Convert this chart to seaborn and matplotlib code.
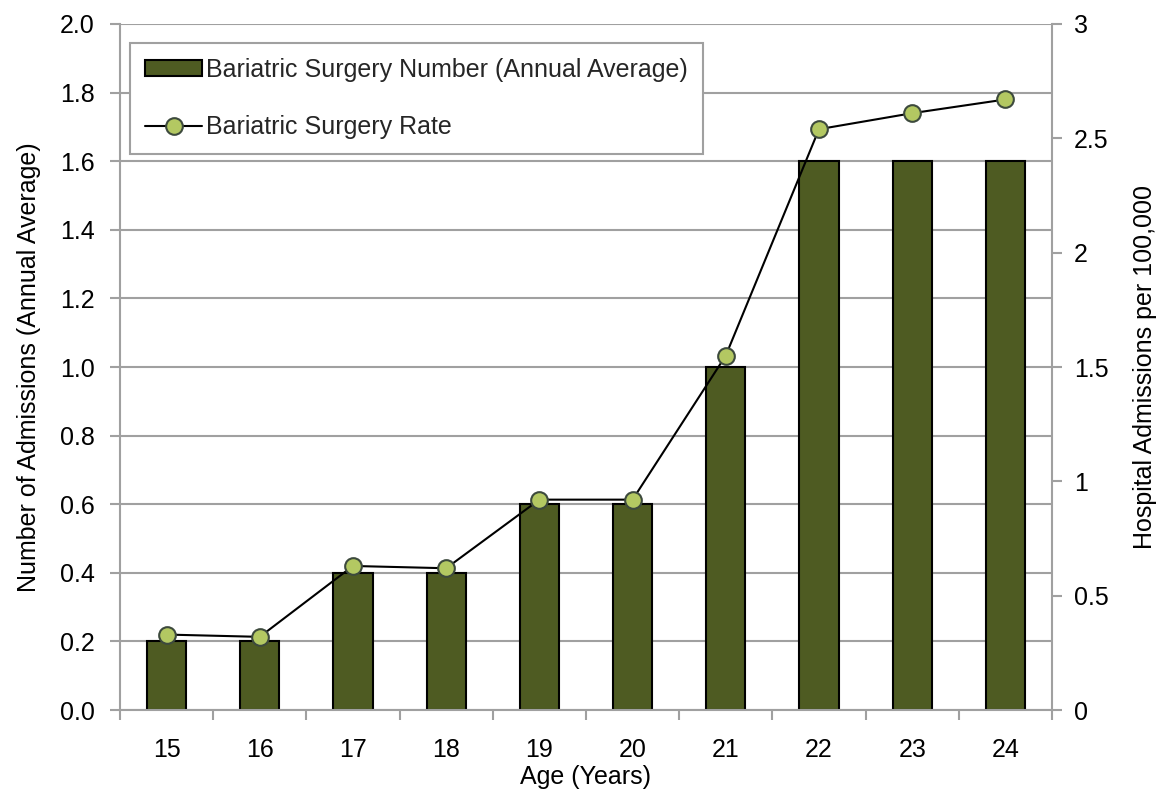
import matplotlib
matplotlib.use("Agg")
import matplotlib.pyplot as plt
import matplotlib.ticker as mticker
from matplotlib.patches import Patch
from matplotlib.lines import Line2D
import numpy as np
import pandas as pd
import seaborn as sns

ages = ["15", "16", "17", "18", "19", "20", "21", "22", "23", "24"]
surgery_number = [0.2, 0.2, 0.4, 0.4, 0.6, 0.6, 1.0, 1.6, 1.6, 1.6]
surgery_rate = [0.33, 0.32, 0.63, 0.62, 0.92, 0.92, 1.55, 2.54, 2.61, 2.67]

bar_label = "Bariatric Surgery Number (Annual Average)"
line_label = "Bariatric Surgery Rate"

sns.set_theme(style="white")
plt.rcParams["font.family"] = ["Liberation Sans", "DejaVu Sans"]

df = pd.DataFrame({"age": ages, "number": surgery_number, "rate": surgery_rate})

BAR_COLOR = "#4e5b22"
MARKER_FACE = "#b3c862"
MARKER_EDGE = "#3d4a3d"
GRID_GRAY = "#a0a0a0"
FS = 18

fig = plt.figure(figsize=(11.6, 7.92), dpi=100)
ax = fig.add_axes([0.1034, 0.1035, 0.8035, 0.8662])

sns.barplot(data=df, x="age", y="number", order=ages, color=BAR_COLOR,
            saturation=1, width=0.42, edgecolor="black", linewidth=1.5, ax=ax)
ax.set_xlim(-0.5, len(ages) - 0.5)
ax.set_ylim(0, 2.0)
ax.yaxis.set_major_locator(mticker.MultipleLocator(0.2))
ax.yaxis.set_major_formatter(mticker.FormatStrFormatter("%.1f"))
ax.grid(axis="y", color=GRID_GRAY, linewidth=1.5)
ax.set_axisbelow(True)

# category labels at centres, tick marks at category boundaries
ax.set_xticks(np.arange(len(ages) + 1) - 0.5)
ax.set_xticklabels([])
ax.set_xticks(np.arange(len(ages)), minor=True)
ax.set_xticklabels(ages, minor=True)
ax.tick_params(axis="x", which="major", direction="out", length=7, width=1.5,
               color=GRID_GRAY, bottom=True)
ax.tick_params(axis="x", which="minor", length=0, labelsize=FS, pad=20,
               labelcolor="black")
ax.tick_params(axis="y", direction="out", length=7, width=1.5, color=GRID_GRAY,
               left=True, labelsize=FS, pad=11, labelcolor="black")

for side in ["top", "right"]:
    ax.spines[side].set_visible(False)
for side in ["left", "bottom"]:
    ax.spines[side].set_color(GRID_GRAY)
    ax.spines[side].set_linewidth(1.5)

ax.set_xlabel("Age (Years)", fontsize=FS, color="black", labelpad=2)
ax.set_ylabel("Number of Admissions (Annual Average)", fontsize=FS,
              color="black", labelpad=14)

ax2 = ax.twinx()
sns.lineplot(data=df, x="age", y="rate", color="black", linewidth=1.5,
             marker="o", markersize=12, markerfacecolor=MARKER_FACE,
             markeredgecolor=MARKER_EDGE, markeredgewidth=1.5, ax=ax2,
             sort=False, legend=False)
ax2.set_ylim(0, 3)
ax2.set_xlim(-0.5, len(ages) - 0.5)
ax2.yaxis.set_major_locator(mticker.MultipleLocator(0.5))
ax2.yaxis.set_major_formatter(mticker.FuncFormatter(lambda v, p: f"{v:g}"))
ax2.tick_params(axis="y", direction="out", length=7, width=1.5, color=GRID_GRAY,
                right=True, labelsize=FS, pad=9, labelcolor="black")
ax2.grid(False)
for side in ["top", "left", "bottom"]:
    ax2.spines[side].set_visible(False)
ax2.spines["right"].set_color(GRID_GRAY)
ax2.spines["right"].set_linewidth(1.5)
ax2.set_ylabel("Hospital Admissions per 100,000", fontsize=FS, color="black",
               labelpad=17)
ax2.set_xlabel("")

handles = [
    Patch(facecolor=BAR_COLOR, edgecolor="black", linewidth=1.5),
    Line2D([0], [0], color="black", linewidth=1.5, marker="o", markersize=12,
           markerfacecolor=MARKER_FACE, markeredgecolor=MARKER_EDGE,
           markeredgewidth=1.5),
]
leg = ax2.legend(handles, [bar_label, line_label], loc="upper left",
                 bbox_to_anchor=(0.0107, 0.973), fontsize=FS, frameon=True,
                 fancybox=False, edgecolor=GRID_GRAY, framealpha=1,
                 handlelength=2.3, handleheight=0.6, handletextpad=0.15,
                 labelspacing=1.35, borderpad=0.6, borderaxespad=0)
leg.get_frame().set_linewidth(1.5)

fig.savefig("out.png", dpi=100)
